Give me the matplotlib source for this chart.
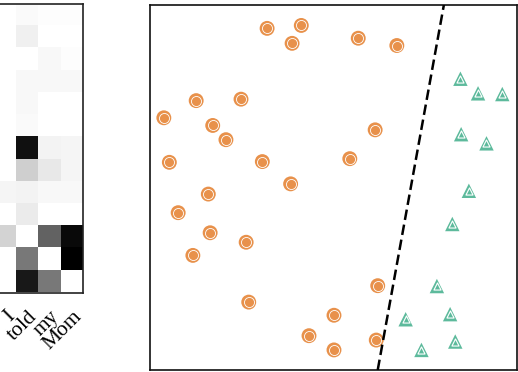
import matplotlib
matplotlib.use("Agg")
import matplotlib.pyplot as plt
import numpy as np

# ---- heatmap data (visible columns only) ----
tokens = ["I", "told", "my", "Mom"]
attn = [
    [0.00, 0.02, 0.01, 0.01],
    [0.00, 0.06, 0.00, 0.00],
    [0.00, 0.00, 0.03, 0.01],
    [0.00, 0.03, 0.03, 0.03],
    [0.00, 0.03, 0.00, 0.00],
    [0.00, 0.02, 0.00, 0.00],
    [0.00, 0.93, 0.05, 0.04],
    [0.00, 0.19, 0.09, 0.04],
    [0.04, 0.05, 0.03, 0.03],
    [0.00, 0.08, 0.00, 0.00],
    [0.17, 0.00, 0.61, 0.96],
    [0.00, 0.53, 0.00, 1.00],
    [0.00, 0.90, 0.53, 0.00],
]

# ---- scatter data ----
orange_x = [3.20, 4.13, 3.88, 5.68, 6.73, 1.27, 2.49, 0.39, 1.72, 2.08, 6.14, 0.54, 3.07,
            5.45, 3.84, 1.60, 0.78, 1.65, 2.63, 1.18, 6.21, 2.70, 5.02, 4.34, 5.02, 6.17]
orange_y = [9.36, 9.44, 8.95, 9.09, 8.89, 7.38, 7.42, 6.91, 6.70, 6.31, 6.58, 5.69, 5.71,
            5.79, 5.10, 4.82, 4.31, 3.76, 3.50, 3.14, 2.31, 1.86, 1.50, 0.94, 0.55, 0.82]
green_x = [8.46, 8.94, 9.60, 8.48, 9.17, 8.69, 8.24, 7.82, 8.18, 6.97, 8.32, 7.40]
green_y = [7.98, 7.58, 7.56, 6.46, 6.21, 4.91, 4.00, 2.30, 1.53, 1.39, 0.78, 0.55]
boundary_x = [6.21, 8.01]
boundary_y = [0.0, 10.0]

ORANGE = "#E8914B"
GREEN = "#5DBA9C"

fig = plt.figure(figsize=(5.18, 3.72), dpi=100)

# heatmap axes (partly off canvas on the left)
W, H = 518.0, 372.0
cell = 22.25
hm_right, hm_top, hm_bottom = 83.3, 4.0, 292.5
hm_left = hm_right - cell * len(tokens)
ax1 = fig.add_axes([hm_left / W, (H - hm_bottom) / H,
                    (hm_right - hm_left) / W, (hm_bottom - hm_top) / H])
ax1.imshow(np.array(attn), cmap="gray_r", vmin=0, vmax=1, aspect="auto",
           interpolation="nearest")
ax1.set_xticks(np.arange(len(tokens)))
ax1.set_xticklabels(tokens, family="Liberation Serif", fontsize=15.5)
plt.setp(ax1.get_xticklabels(), rotation=45, ha="right", rotation_mode="anchor")
ax1.set_yticks([])
ax1.tick_params(axis="x", length=0, pad=10.5)
for s in ax1.spines.values():
    s.set_color("#222222")
    s.set_linewidth(1.2)

# scatter axes
ax2 = fig.add_axes([149.5 / W, (H - 370.0) / H, 367.5 / W, 365.0 / H])
ax2.scatter(orange_x, orange_y, s=115, c=ORANGE, edgecolors="none", zorder=2)
ax2.scatter(orange_x, orange_y, s=52, c=ORANGE, edgecolors="white", linewidths=0.6, zorder=3)
ax2.scatter(green_x, green_y, s=108, c=GREEN, marker="^", edgecolors="none", zorder=2)
ax2.scatter(green_x, green_y, s=26, c=GREEN, marker="^", edgecolors="white", linewidths=0.8, zorder=3)
ax2.plot(boundary_x, boundary_y, color="black", linestyle="--", linewidth=1.8,
         dashes=(4.2, 1.9), zorder=4)
ax2.set_xlim(0, 10)
ax2.set_ylim(0, 10)
ax2.set_xticks([])
ax2.set_yticks([])
for s in ax2.spines.values():
    s.set_color("#111111")
    s.set_linewidth(1.2)

fig.savefig("out.png", dpi=100)
